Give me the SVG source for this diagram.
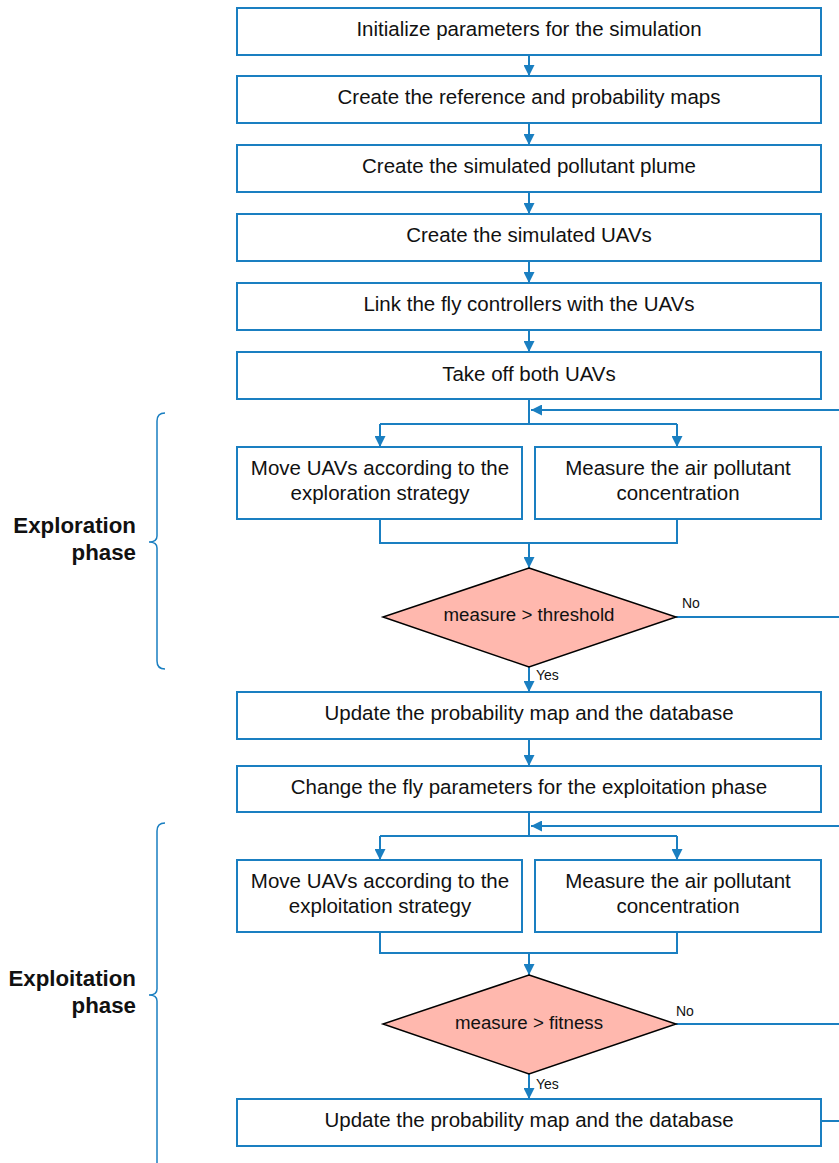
<svg xmlns="http://www.w3.org/2000/svg" width="839" height="1163" viewBox="0 0 839 1163">
<style>
.box{fill:#fff;stroke:#1a7fc1;stroke-width:2}
.dia{fill:#ffb8ae;stroke:#000;stroke-width:1.5}
.ln{fill:none;stroke:#1a7fc1;stroke-width:2}
.t{font-family:"Liberation Sans",Arial,sans-serif;font-size:20.5px;fill:#111;text-anchor:middle}
.dt{font-size:18.7px}
.s{font-family:"Liberation Sans",Arial,sans-serif;font-size:14px;fill:#111}
.ph{font-family:"Liberation Sans",Arial,sans-serif;font-size:22.3px;font-weight:bold;fill:#111;text-anchor:end}
</style>
<defs>
<marker id="ah" viewBox="0 0 10 10" refX="10" refY="5" markerWidth="5.5" markerHeight="5.5" orient="auto" markerUnits="strokeWidth">
<path d="M0,0 L10,5 L0,10 z" fill="#1a7fc1"/>
</marker>
</defs>
<g id="connectors">
<path class="ln" d="M529,55 V76" marker-end="url(#ah)"/>
<path class="ln" d="M529,123 V145" marker-end="url(#ah)"/>
<path class="ln" d="M529,192 V214" marker-end="url(#ah)"/>
<path class="ln" d="M529,261 V283" marker-end="url(#ah)"/>
<path class="ln" d="M529,330 V352" marker-end="url(#ah)"/>
<path class="ln" d="M529,399 V424 M380,424 H677"/>
<path class="ln" d="M380,424 V447" marker-end="url(#ah)"/>
<path class="ln" d="M677,424 V447" marker-end="url(#ah)"/>
<path class="ln" d="M839,410 H531" marker-end="url(#ah)"/>
<path class="ln" d="M380,519 V543 H677 V519"/>
<path class="ln" d="M529,543 V568" marker-end="url(#ah)"/>
<path class="ln" d="M676,617 H839"/>
<path class="ln" d="M529,667 V692" marker-end="url(#ah)"/>
<path class="ln" d="M529,739 V766" marker-end="url(#ah)"/>
<path class="ln" d="M529,812 V836 M380,836 H677"/>
<path class="ln" d="M380,836 V860" marker-end="url(#ah)"/>
<path class="ln" d="M677,836 V860" marker-end="url(#ah)"/>
<path class="ln" d="M839,826 H531" marker-end="url(#ah)"/>
<path class="ln" d="M380,932 V953 H677 V932"/>
<path class="ln" d="M529,953 V975" marker-end="url(#ah)"/>
<path class="ln" d="M676,1024 H839"/>
<path class="ln" d="M529,1074 V1099" marker-end="url(#ah)"/>
<path class="ln" d="M821,1121 H839"/>
<text class="s" x="682" y="608">No</text>
<text class="s" x="536" y="680">Yes</text>
<text class="s" x="676" y="1016">No</text>
<text class="s" x="536" y="1089">Yes</text>
</g>
<g id="n1"><rect class="box" x="237" y="8" width="584" height="47"/><text class="t" x="529" y="36">Initialize parameters for the simulation</text></g>
<g id="n2"><rect class="box" x="237" y="76" width="584" height="47"/><text class="t" x="529" y="104">Create the reference and probability maps</text></g>
<g id="n3"><rect class="box" x="237" y="145" width="584" height="47"/><text class="t" x="529" y="173">Create the simulated pollutant plume</text></g>
<g id="n4"><rect class="box" x="237" y="214" width="584" height="47"/><text class="t" x="529" y="242">Create the simulated UAVs</text></g>
<g id="n5"><rect class="box" x="237" y="283" width="584" height="47"/><text class="t" x="529" y="311">Link the fly controllers with the UAVs</text></g>
<g id="n6"><rect class="box" x="237" y="352" width="584" height="47"/><text class="t" x="529" y="381">Take off both UAVs</text></g>
<g id="n7"><rect class="box" x="237" y="447" width="285" height="72"/><text class="t" x="380" y="475">Move UAVs according to the</text><text class="t" x="380" y="500">exploration strategy</text></g>
<g id="n8"><rect class="box" x="535" y="447" width="286" height="72"/><text class="t" x="678" y="475">Measure the air pollutant</text><text class="t" x="678" y="500">concentration</text></g>
<g id="d1"><polygon class="dia" points="529,568 676,617 529,667 383,617"/><text class="t dt" x="529" y="621">measure &gt; threshold</text></g>
<g id="n9"><rect class="box" x="237" y="692" width="584" height="47"/><text class="t" x="529" y="720">Update the probability map and the database</text></g>
<g id="n10"><rect class="box" x="237" y="766" width="584" height="46"/><text class="t" x="529" y="794">Change the fly parameters for the exploitation phase</text></g>
<g id="n11"><rect class="box" x="237" y="860" width="285" height="72"/><text class="t" x="380" y="888">Move UAVs according to the</text><text class="t" x="380" y="913">exploitation strategy</text></g>
<g id="n12"><rect class="box" x="535" y="860" width="286" height="72"/><text class="t" x="678" y="888">Measure the air pollutant</text><text class="t" x="678" y="913">concentration</text></g>
<g id="d2"><polygon class="dia" points="529,975 676,1024 529,1074 383,1024"/><text class="t dt" x="529" y="1029">measure &gt; fitness</text></g>
<g id="n13"><rect class="box" x="237" y="1099" width="584" height="47"/><text class="t" x="529" y="1127">Update the probability map and the database</text></g>
<g id="phase1">
<path class="ln" style="stroke-width:1.5" d="M165,413 Q157,413 157,421 V536 Q157,542 149,542 Q157,542 157,548 V661 Q157,669 165,669"/>
<text class="ph" x="136" y="533">Exploration</text><text class="ph" x="136" y="560">phase</text>
</g>
<g id="phase2">
<path class="ln" style="stroke-width:1.5" d="M165,823 Q157,823 157,831 V989 Q157,995 149,995 Q157,995 157,1001 V1163"/>
<text class="ph" x="136" y="986">Exploitation</text><text class="ph" x="136" y="1013">phase</text>
</g>
</svg>
